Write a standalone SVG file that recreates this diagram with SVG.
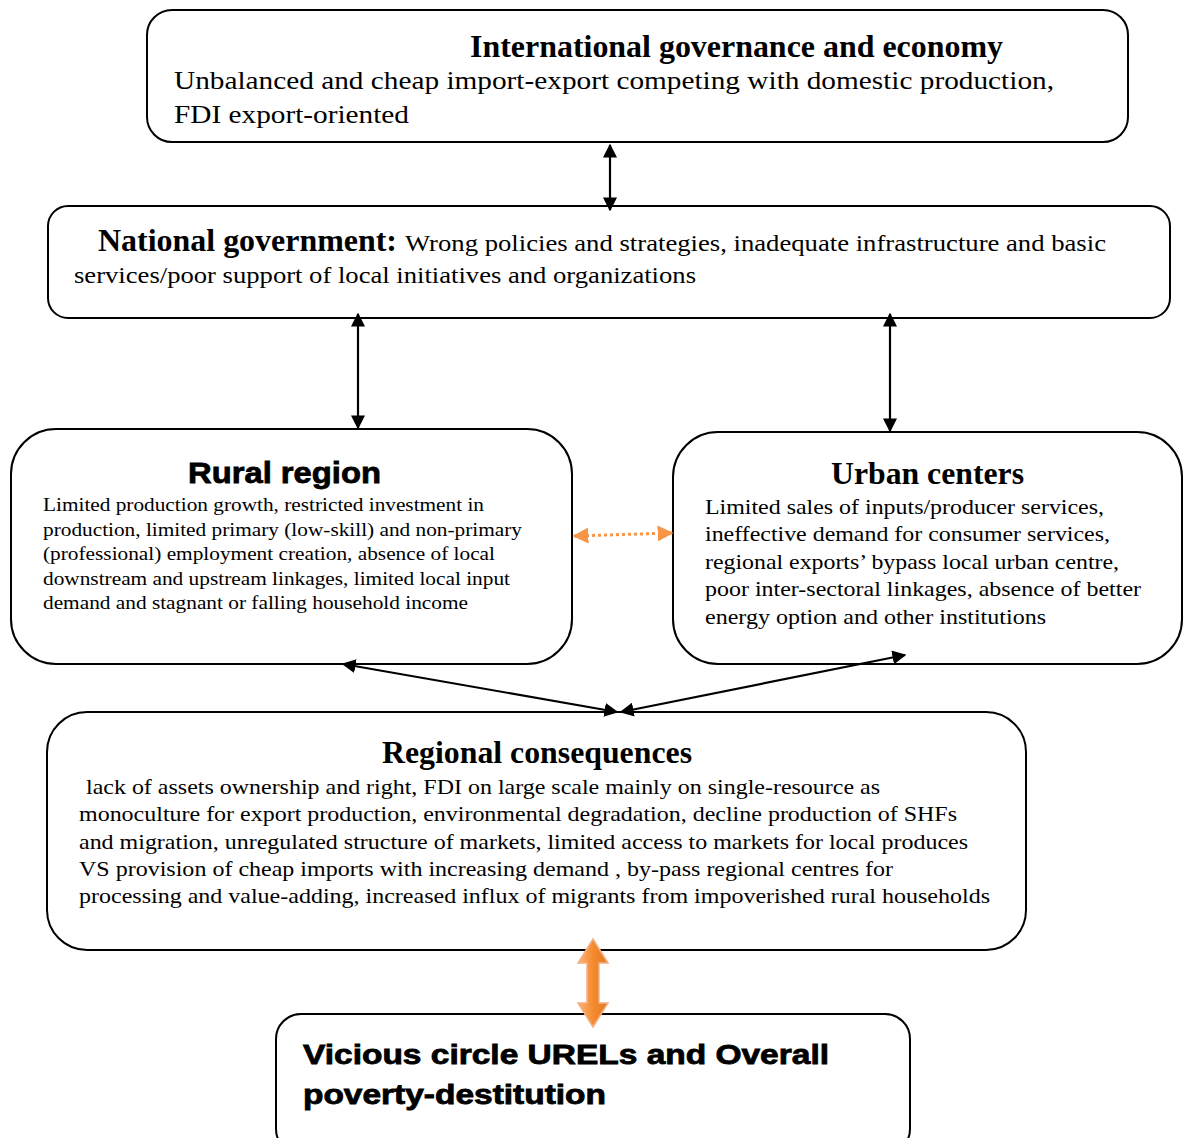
<svg xmlns="http://www.w3.org/2000/svg" width="1185" height="1138" viewBox="0 0 1185 1138">
  <defs>
    <style>
      .box { fill: #fff; stroke: #000; stroke-width: 2; }
      .serif { font-family: "Liberation Serif", "Times New Roman", serif; fill: #000; }
      .sansb { font-family: "Liberation Sans", Arial, sans-serif; font-weight: bold; fill: #000; stroke: #000; stroke-width: 0.8; }
      .b { font-weight: bold; }
      .link { stroke: #000; stroke-width: 2.2; fill: none; }
    </style>
    <marker id="ahBig" viewBox="0 0 10 10" refX="9" refY="5" markerWidth="14" markerHeight="14" orient="auto-start-reverse" markerUnits="userSpaceOnUse">
      <path d="M0,0 L10,5 L0,10 z" fill="#000"/>
    </marker>
    <marker id="ahOr" viewBox="0 0 10 10" refX="9" refY="5" markerWidth="16" markerHeight="16" orient="auto-start-reverse" markerUnits="userSpaceOnUse">
      <path d="M0,0 L10,5 L0,10 z" fill="#f79646"/>
    </marker>
    <linearGradient id="blockGrad" x1="0" y1="0" x2="1" y2="0">
      <stop offset="0" stop-color="#f9b57a"/>
      <stop offset="0.5" stop-color="#f58a2e"/>
      <stop offset="1" stop-color="#e07a24"/>
    </linearGradient>
  </defs>

  <!-- International governance -->
  <g id="international">
    <rect class="box" x="147" y="10" width="981" height="132" rx="25"/>
    <text class="serif b" x="470" y="57" font-size="31" textLength="533" lengthAdjust="spacingAndGlyphs">International governance and economy</text>
    <text class="serif" x="174" y="89" font-size="26" textLength="880" lengthAdjust="spacingAndGlyphs">Unbalanced and cheap import-export competing with domestic production,</text>
    <text class="serif" x="174" y="123" font-size="26" textLength="235" lengthAdjust="spacingAndGlyphs">FDI export-oriented</text>
  </g>

  <!-- National government -->
  <g id="national">
    <rect class="box" x="48" y="206" width="1122" height="112" rx="20"/>
    <text class="serif b" x="98" y="251" font-size="31" textLength="299" lengthAdjust="spacingAndGlyphs">National government:</text>
    <text class="serif" x="405" y="251" font-size="24" textLength="701" lengthAdjust="spacingAndGlyphs">Wrong policies and strategies, inadequate infrastructure and basic</text>
    <text class="serif" x="74" y="283" font-size="24" textLength="622" lengthAdjust="spacingAndGlyphs">services/poor support of local initiatives and organizations</text>
  </g>

  <!-- Rural region -->
  <g id="rural">
    <rect class="box" x="11" y="429" width="561" height="235" rx="45"/>
    <text class="sansb" x="188" y="483" font-size="30" textLength="193" lengthAdjust="spacingAndGlyphs">Rural region</text>
    <g class="serif" font-size="19">
      <text x="43" y="511" textLength="441" lengthAdjust="spacingAndGlyphs">Limited production growth, restricted investment in</text>
      <text x="43" y="536" textLength="479" lengthAdjust="spacingAndGlyphs">production, limited primary (low-skill) and non-primary</text>
      <text x="43" y="560" textLength="452" lengthAdjust="spacingAndGlyphs">(professional) employment creation, absence of local</text>
      <text x="43" y="585" textLength="467" lengthAdjust="spacingAndGlyphs">downstream and upstream linkages, limited local input</text>
      <text x="43" y="609" textLength="425" lengthAdjust="spacingAndGlyphs">demand and stagnant or falling household income</text>
    </g>
  </g>

  <!-- Urban centers -->
  <g id="urban">
    <rect class="box" x="673" y="432" width="509" height="232" rx="45"/>
    <text class="serif b" x="831" y="484" font-size="31" textLength="193" lengthAdjust="spacingAndGlyphs">Urban centers</text>
    <g class="serif" font-size="22">
      <text x="705" y="514" textLength="399" lengthAdjust="spacingAndGlyphs">Limited sales of inputs/producer services,</text>
      <text x="705" y="541" textLength="405" lengthAdjust="spacingAndGlyphs">ineffective demand for consumer services,</text>
      <text x="705" y="569" textLength="414" lengthAdjust="spacingAndGlyphs">regional exports’ bypass local urban centre,</text>
      <text x="705" y="596" textLength="436" lengthAdjust="spacingAndGlyphs">poor inter-sectoral linkages, absence of better</text>
      <text x="705" y="624" textLength="341" lengthAdjust="spacingAndGlyphs">energy option and other institutions</text>
    </g>
  </g>

  <!-- Regional consequences -->
  <g id="regional">
    <rect class="box" x="47" y="712" width="979" height="238" rx="40"/>
    <text class="serif b" x="382" y="763" font-size="31" textLength="310" lengthAdjust="spacingAndGlyphs">Regional consequences</text>
    <g class="serif" font-size="22">
      <text x="86" y="794" textLength="794" lengthAdjust="spacingAndGlyphs">lack of assets ownership and right, FDI on large scale mainly on single-resource as</text>
      <text x="79" y="821" textLength="878" lengthAdjust="spacingAndGlyphs">monoculture for export production, environmental degradation, decline production of SHFs</text>
      <text x="79" y="849" textLength="889" lengthAdjust="spacingAndGlyphs">and migration, unregulated structure of markets, limited access to markets for local produces</text>
      <text x="79" y="876" textLength="814" lengthAdjust="spacingAndGlyphs">VS provision of cheap imports with increasing demand , by-pass regional centres for</text>
      <text x="79" y="903" textLength="911" lengthAdjust="spacingAndGlyphs">processing and value-adding, increased influx of migrants from impoverished rural households</text>
    </g>
  </g>

  <!-- Vicious circle -->
  <g id="vicious">
    <rect class="box" x="276" y="1014" width="634" height="140" rx="25"/>
    <text class="sansb" x="303" y="1064" font-size="27" textLength="526" lengthAdjust="spacingAndGlyphs">Vicious circle URELs and Overall</text>
    <text class="sansb" x="303" y="1104" font-size="27" textLength="303" lengthAdjust="spacingAndGlyphs">poverty-destitution</text>
  </g>

  <!-- Connectors -->
  <g id="connectors">
    <line class="link" x1="610" y1="145" x2="610" y2="210" marker-start="url(#ahBig)" marker-end="url(#ahBig)"/>
    <line class="link" x1="358" y1="314" x2="358" y2="428" marker-start="url(#ahBig)" marker-end="url(#ahBig)"/>
    <line class="link" x1="890" y1="314" x2="890" y2="431" marker-start="url(#ahBig)" marker-end="url(#ahBig)"/>
    <line class="link" x1="343" y1="664" x2="617" y2="712" marker-start="url(#ahBig)" marker-end="url(#ahBig)"/>
    <line class="link" x1="905" y1="655" x2="621" y2="712" marker-start="url(#ahBig)" marker-end="url(#ahBig)"/>
    <line x1="574" y1="536" x2="672" y2="533" stroke="#f79646" stroke-width="3" stroke-dasharray="3,3" marker-start="url(#ahOr)" marker-end="url(#ahOr)"/>
    <!-- block double arrow between consequences and the vicious circle -->
    <path d="M593,939 L608,963 L599,963 L599,1003 L608,1003 L593,1027 L578,1003 L587,1003 L587,963 L578,963 Z" fill="url(#blockGrad)" stroke="#f4b183" stroke-width="1.5"/>
  </g>
</svg>
